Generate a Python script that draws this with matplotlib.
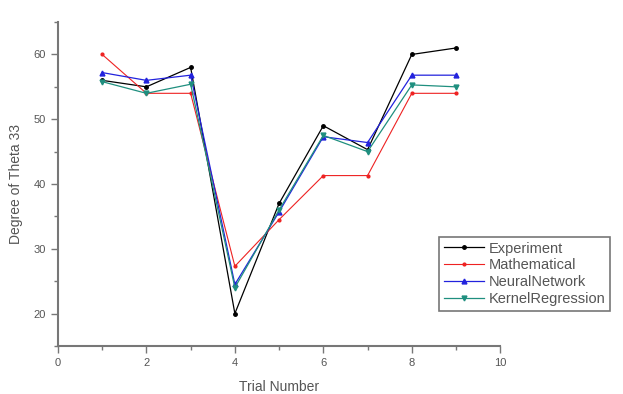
import numpy as np
import matplotlib
matplotlib.use("Agg")
import matplotlib.pyplot as plt
from matplotlib.ticker import MultipleLocator

plt.rcParams['font.family'] = ['Liberation Sans', 'DejaVu Sans']

trials = [1, 2, 3, 4, 5, 6, 7, 8, 9]
experiment = [56.0, 55.0, 58.0, 20.0, 37.0, 49.0, 45.3, 60.0, 61.0]
mathematical = [60.0, 54.0, 54.0, 27.3, 34.5, 41.3, 41.3, 54.0, 54.0]
neural = [57.2, 56.0, 56.8, 24.5, 35.7, 47.3, 46.4, 56.8, 56.8]
kernel = [55.8, 54.0, 55.4, 24.0, 36.0, 47.5, 45.0, 55.3, 55.0]

grey = "#555555"

fig = plt.figure(figsize=(6.23, 3.94), dpi=100)
ax = fig.add_axes([0.093, 0.122, 0.71, 0.822])

ax.plot(trials, experiment, color="black", marker="o", markersize=2.5, lw=0.9, label="Experiment")
ax.plot(trials, mathematical, color="#ee2222", marker="o", markersize=2, lw=0.8, label="Mathematical")
ax.plot(trials, neural, color="#2222dd", marker="^", markersize=3.5, lw=0.9, label="NeuralNetwork")
ax.plot(trials, kernel, color="#1f8f7f", marker="v", markersize=3.5, lw=0.9, label="KernelRegression")

ax.set_xlim(0, 10)
ax.set_ylim(15, 65)
ax.xaxis.set_major_locator(MultipleLocator(2))
ax.xaxis.set_minor_locator(MultipleLocator(1))
ax.yaxis.set_major_locator(MultipleLocator(10))
ax.yaxis.set_minor_locator(MultipleLocator(5))
ax.set_yticks([20, 30, 40, 50, 60])

for s in ["top", "right"]:
    ax.spines[s].set_visible(False)
for s in ["left", "bottom"]:
    ax.spines[s].set_color("#777777")
    ax.spines[s].set_linewidth(1.5)

ax.tick_params(which="major", length=5, width=1, color="#777777", labelsize=8, labelcolor=grey)
ax.tick_params(which="minor", length=3, width=1, color="#777777")

ax.set_xlabel("Trial Number", fontsize=10, color=grey, labelpad=9)
ax.set_ylabel("Degree of Theta 33", fontsize=10, color=grey, labelpad=8)

leg = ax.legend(loc="upper left", bbox_to_anchor=(0.705, 0.398), bbox_transform=fig.transFigure,
                fontsize=10.5, frameon=True, fancybox=False, labelspacing=0.2, handlelength=2.8,
                handletextpad=0.3, borderpad=0.3, borderaxespad=0)
leg.get_frame().set_edgecolor("#555555")
leg.get_frame().set_linewidth(1.2)
for t in leg.get_texts():
    t.set_color(grey)

fig.savefig("out.png", dpi=100)
